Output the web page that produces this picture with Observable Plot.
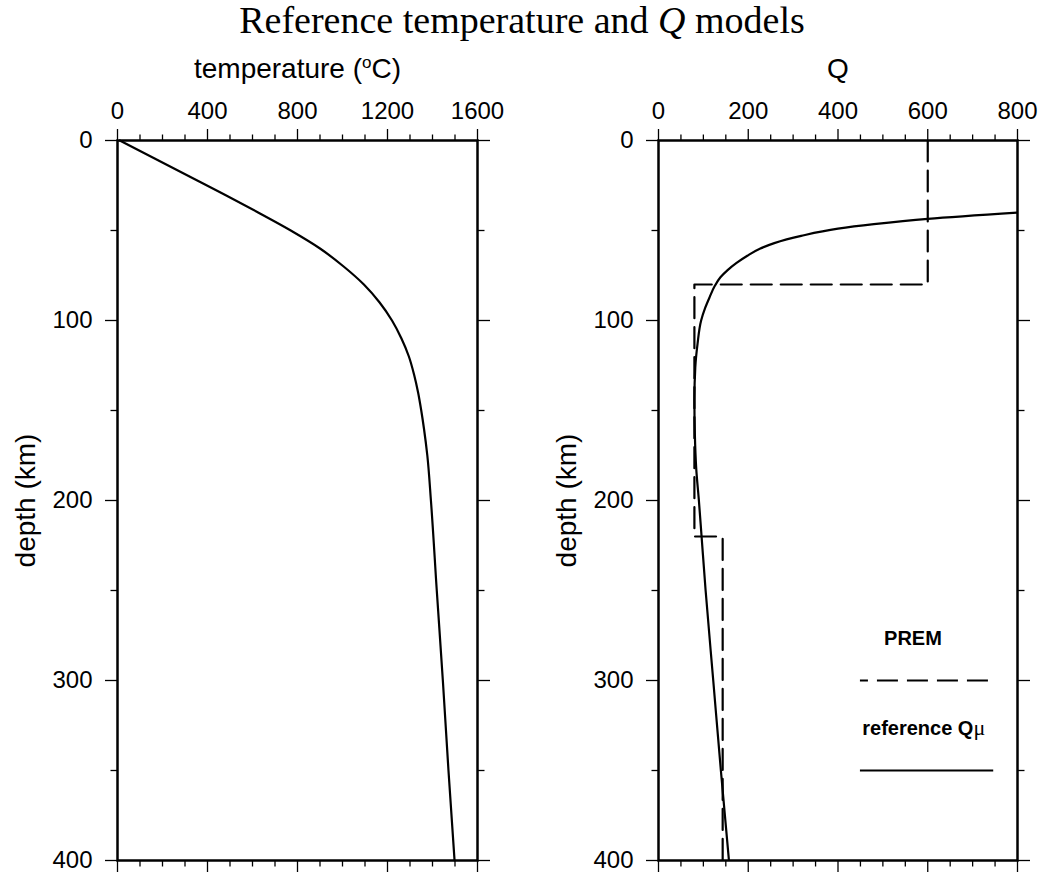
<!DOCTYPE html>
<html><head><meta charset="utf-8">
<script src="https://cdn.jsdelivr.net/npm/d3@7"></script>
<script src="https://cdn.jsdelivr.net/npm/@observablehq/plot@0.6"></script>
<style>
body{margin:0;background:#fff;}
#title{height:48px;font-family:'Liberation Serif','Times New Roman',serif;font-size:38px;line-height:38px;padding-top:1px;box-sizing:border-box;text-align:center;color:#000;white-space:nowrap;}
#row{display:flex;width:1044px;}
</style></head><body>
<div id="title">Reference temperature and <i>Q</i> models</div>
<div id="row"></div>
<script>
// ---- data ----
const tempDepth = [0, 10, 20, 30, 40, 50, 60, 70, 80, 90, 100, 110, 120, 130, 140, 150, 160, 175, 200, 250, 300, 350, 400];
const tempValue = [10, 165, 320, 475, 625, 770, 900, 1005, 1095, 1165, 1220, 1262, 1295, 1318, 1336, 1350, 1362, 1377, 1393, 1419, 1446, 1471, 1498];

const qRefDepth = [40, 43.5, 46.5, 49, 53, 57, 60, 64, 68, 72, 76, 81, 87, 93, 100, 113, 126, 144, 163, 182, 200, 220, 250, 300, 350, 400];
const qRefValue = [800, 600, 480, 400, 318, 258, 227, 198, 174, 154, 138, 125, 114, 104, 95, 87, 82, 80, 81, 84, 90, 96, 105, 122, 139, 157];

const premDepth = [0, 80, 80, 220, 220, 400];
const premQ = [600, 600, 80, 80, 143, 143];

const depthTicks = [0, 100, 200, 300, 400];
const depthMinor = [50, 150, 250, 350];
const tempTicks = [0, 400, 800, 1200, 1600];
const tempMinor = [100, 200, 300, 500, 600, 700, 900, 1000, 1100, 1300, 1400, 1500];
const qTicks = [0, 200, 400, 600, 800];
const qMinor = [50, 100, 150, 250, 300, 350, 450, 500, 550, 650, 700, 750];

const xLabelTemp = ["temperature (", "o", "C)"];
const xLabelQ = ["Q"];
const yLabel = "depth (km)";
const legendLabels = [["PREM"], ["reference Q", "\u03bc"]];

// ---- layout (not data) ----
const legendLayout = {titleQ: 567, titleDepth: 280, lineQ1: 450, lineQ2: 747, dashDepth: 300, labelQ: 454, labelDepth: 330, solidDepth: 350};

const tempRows = tempDepth.map((d, i) => ({depth: d, value: tempValue[i]}));
const qRefRows = qRefDepth.map((d, i) => ({depth: d, value: qRefValue[i]}));
const premRows = premDepth.map((d, i) => ({depth: d, value: premQ[i]}));

const noText = () => "";
const plain = d => String(d);

function axes(xTicks, xMinor, xLabel) {
  const common = {strokeWidth: 1.3};
  return [
    Plot.axisX({anchor: "top", ticks: xTicks, tickSize: 12, tickPadding: 10, tickFormat: plain, label: xLabel, labelAnchor: "center", labelOffset: 82, labelArrow: "none", ...common}),
    Plot.axisX({anchor: "top", ticks: xMinor, tickSize: 6.5, tickFormat: noText, label: null, ...common}),
    Plot.axisX({anchor: "bottom", ticks: xTicks, tickSize: 12, tickFormat: noText, label: null, ...common}),
    Plot.axisX({anchor: "bottom", ticks: xMinor, tickSize: 6.5, tickFormat: noText, label: null, ...common}),
    Plot.axisY({anchor: "left", ticks: depthTicks, tickSize: 12, tickPadding: 13, tickFormat: plain, label: yLabel, labelAnchor: "center", labelOffset: 102, labelArrow: "none", ...common}),
    Plot.axisY({anchor: "left", ticks: depthMinor, tickSize: 6.5, tickFormat: noText, label: null, ...common}),
    Plot.axisY({anchor: "right", ticks: depthTicks, tickSize: 12, tickFormat: noText, label: null, ...common}),
    Plot.axisY({anchor: "right", ticks: depthMinor, tickSize: 6.5, tickFormat: noText, label: null, ...common})
  ];
}

function panel({xDomain, xTicks, xMinor, xLabel, marginLeft, marginRight, marks}) {
  return Plot.plot({
    width: 522, height: 829,
    marginTop: 92, marginBottom: 17, marginLeft, marginRight,
    x: {domain: xDomain},
    y: {domain: [0, 400], reverse: true},
    style: {fontFamily: "'Liberation Sans', Arial, sans-serif", fontSize: "24px", color: "#000", background: "#fff", overflow: "visible"},
    marks: [...marks, ...axes(xTicks, xMinor, xLabel), Plot.frame({strokeWidth: 2.5})]
  });
}

function fixLabels(svg, xParts) {
  const s = d3.select(svg);
  const xl = s.select('g[aria-label="x-axis label"] text');
  xl.attr("font-size", 28).text(null);
  xl.append("tspan").text(xParts[0]);
  if (xParts.length > 1) {
    xl.append("tspan").attr("font-size", 17).attr("dy", -10).text(xParts[1]);
    xl.append("tspan").attr("dy", 10).text(xParts[2]);
  }
  s.select('g[aria-label="y-axis label"] text').attr("font-size", 28).text(yLabel);
}

const left = panel({
  xDomain: [0, 1600], xTicks: tempTicks, xMinor: tempMinor, xLabel: xLabelTemp.join(""),
  marginLeft: 117, marginRight: 45,
  marks: [Plot.line(tempRows, {x: "value", y: "depth", curve: "monotone-y", strokeWidth: 2.2, stroke: "#000"})]
});
fixLabels(left, xLabelTemp);

const right = panel({
  xDomain: [0, 800], xTicks: qTicks, xMinor: qMinor, xLabel: xLabelQ[0],
  marginLeft: 136, marginRight: 27,
  marks: [
    Plot.line(premRows, {x: "value", y: "depth", stroke: "#000", strokeWidth: 2.2, strokeDasharray: "21,9", clip: true}),
    Plot.line(qRefRows, {x: "value", y: "depth", curve: "monotone-y", stroke: "#000", strokeWidth: 2.2, clip: true}),
    Plot.text([legendLabels[0].join("")], {x: legendLayout.titleQ, y: legendLayout.titleDepth, text: d => d, fontWeight: "bold", fontSize: 20, textAnchor: "middle", lineAnchor: "bottom"}),
    Plot.ruleY([legendLayout.dashDepth], {x1: legendLayout.lineQ1, x2: legendLayout.lineQ2, stroke: "#000", strokeWidth: 2.2, strokeDasharray: "21,9", strokeDashoffset: 13}),
    Plot.text([legendLabels[1].join("")], {x: legendLayout.labelQ, y: legendLayout.labelDepth, text: d => d, fontWeight: "bold", fontSize: 20, textAnchor: "start", lineAnchor: "bottom", ariaLabel: "legend-qmu"}),
    Plot.ruleY([legendLayout.solidDepth], {x1: legendLayout.lineQ1, x2: legendLayout.lineQ2, stroke: "#000", strokeWidth: 2.2})
  ]
});
fixLabels(right, xLabelQ);

// make the mu glyph a plain (non-bold) symbol like the original
d3.select(right).selectAll("text").filter(function() { return this.textContent === legendLabels[1].join(""); }).each(function() {
  const t = d3.select(this);
  t.text(null);
  t.append("tspan").text(legendLabels[1][0]);
  t.append("tspan").attr("font-weight", "normal").attr("font-family", "'Liberation Serif', serif").attr("font-size", 22).text(legendLabels[1][1]);
});

document.getElementById("row").append(left, right);
</script>
</body></html>
